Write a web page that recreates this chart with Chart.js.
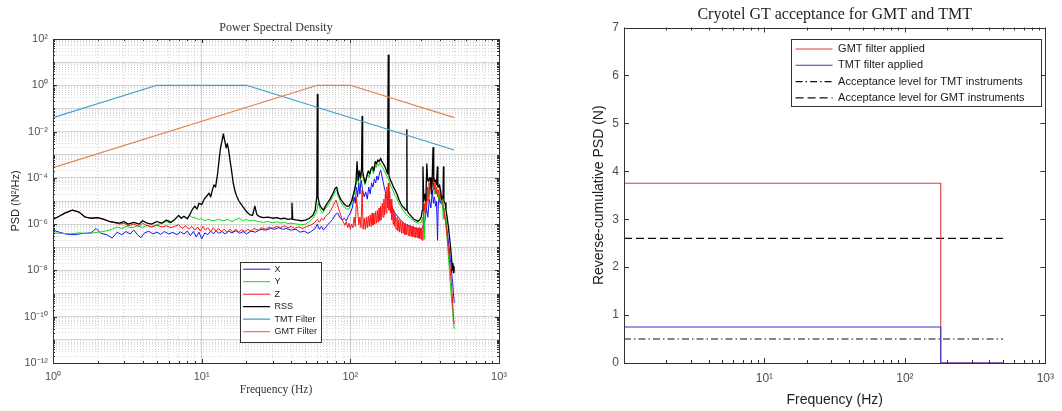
<!DOCTYPE html>
<html><head><meta charset="utf-8">
<script src="https://cdn.jsdelivr.net/npm/chart.js@4.4.0/dist/chart.umd.min.js"></script>
<style>
html,body{margin:0;padding:0;background:#fff;width:1062px;height:411px;overflow:hidden}
canvas{position:absolute;top:0}
#c1{left:0}
#c2{left:530px}
</style></head><body>
<canvas id="c1" width="530" height="411"></canvas>
<canvas id="c2" width="532" height="411"></canvas>
<script>
// ---------- Left panel data: [frequency Hz, PSD N^2/Hz] ----------
const psdX = [[1,5.5e-7],[1.1,4.5e-7],[1.25,3.6e-7],[1.4,3.5e-7],[1.6,4.0e-7],[1.8,4.2e-7],[1.95,6.5e-7],[2.1,4.0e-7],[2.3,3.5e-7],[2.5,2.5e-7],[2.7,4.5e-7],[2.9,3.5e-7],[3.1,4.8e-7],[3.3,3.8e-7],[3.5,5.5e-7],[3.7,3.5e-7],[3.9,2.6e-7],[4.1,4.0e-7],[4.4,5.0e-7],[4.7,3.8e-7],[5,4.5e-7],[5.3,3.6e-7],[5.6,4.8e-7],[6,3.8e-7],[6.4,4.4e-7],[6.8,3.5e-7],[7.2,4.6e-7],[7.6,3.7e-7],[8,5.0e-7],[8.4,3.2e-7],[8.8,4.8e-7],[9.2,2.8e-7],[9.6,4.5e-7],[10,2.3e-7],[10.5,4.2e-7],[11,3.5e-7],[11.5,5.0e-7],[12,3.8e-7],[12.5,5.2e-7],[13,4.0e-7],[13.7,4.8e-7],[14.4,3.8e-7],[15.2,5.0e-7],[16,4.2e-7],[17,5.2e-7],[18,4.0e-7],[19,4.8e-7],[20,3.8e-7],[21.5,5.0e-7],[23,4.5e-7],[25,6.0e-7],[27,5.5e-7],[29,6.5e-7],[31,6.0e-7],[33,7.0e-7],[35,6.0e-7],[37,6.5e-7],[40,5.5e-7],[43,6.0e-7],[46,4.5e-7],[49,5.0e-7],[52,4.0e-7],[55,5.0e-7],[58,6.5e-7],[60,1.0e-6],[62,6.0e-7],[64,8.0e-7],[66,5.5e-7],[68,7.0e-7],[70,9.0e-7],[73,1.2e-6],[76,1.6e-6],[79,2.5e-6],[82,3.0e-6],[85,2.0e-6],[88,1.5e-6],[91,1.8e-6],[94,1.4e-6],[97,2.2e-6],[100,3.0e-6],[103,5e-6],[106,1.5e-5],[108,8e-6],[110,4e-5],[112,1.5e-5],[114,6e-5],[116,2e-5],[118,8e-5],[121,3e-5],[124,1.5e-5],[127,2.5e-5],[130,1.2e-5],[133,4e-5],[136,2e-5],[139,6e-5],[142,4e-5],[145,9e-5],[148,6e-5],[151,1.2e-4],[154,8e-5],[157,1.6e-4],[160,2.2e-4],[163,1.2e-4],[166,7e-5],[169,4e-5],[172,2.5e-5],[175,1.5e-5],[178,1.2e-5],[181,8e-6],[185,1e-5],[190,6e-6],[195,4e-6],[200,3e-6],[210,2e-6],[220,1.4e-6],[230,1.1e-6],[240,9e-7],[250,8e-7],[265,7e-7],[280,6e-7],[300,6e-7],[315,1e-6],[325,5e-6],[332,2e-6],[340,1.2e-5],[348,5e-6],[356,3e-5],[362,8e-6],[368,1.5e-5],[374,6e-6],[380,1e-5],[386,2e-7],[390,6e-6],[396,1.5e-5],[402,8e-6],[410,1.2e-5],[418,5e-6],[426,4e-6],[434,2e-6],[442,1e-6],[450,4e-7],[458,1.5e-7],[466,5e-8],[474,2e-8],[482,6e-9],[488,3e-9],[494,1e-9],[500,4e-10]];

const psdY = [[1,4.2e-7],[1.15,4.0e-7],[1.3,3.8e-7],[1.5,4.2e-7],[1.7,3.9e-7],[1.9,4.3e-7],[2.1,4.6e-7],[2.3,5.2e-7],[2.5,6.0e-7],[2.7,7.5e-7],[2.9,6.5e-7],[3.1,8.0e-7],[3.4,7.0e-7],[3.7,8.5e-7],[4,7.2e-7],[4.3,9.0e-7],[4.6,7.8e-7],[5,9.5e-7],[5.4,1.1e-6],[5.8,1.3e-6],[6.2,1.1e-6],[6.6,1.6e-6],[7,2.3e-6],[7.3,1.8e-6],[7.6,2.2e-6],[8,1.7e-6],[8.3,2.4e-6],[8.6,2.0e-6],[9,1.9e-6],[9.5,1.6e-6],[10,1.7e-6],[10.5,1.4e-6],[11,1.6e-6],[12,1.4e-6],[13,1.6e-6],[14,1.4e-6],[15,1.6e-6],[16,1.3e-6],[17,1.6e-6],[18,1.8e-6],[19,1.4e-6],[20,1.6e-6],[21,1.4e-6],[22,1.5e-6],[24,1.3e-6],[26,1.2e-6],[28,1.3e-6],[30,1.15e-6],[32,1.25e-6],[34,1.1e-6],[36,1.2e-6],[38,1.05e-6],[40,1.1e-6],[44,1.0e-6],[47,9.5e-7],[50,1.0e-6],[53,1.3e-6],[56,1.8e-6],[59,3.2e-6],[61,8e-6],[63,4e-6],[65,3e-6],[67,4e-6],[70,6e-6],[73,9e-6],[76,1.5e-5],[79,2.5e-5],[81,3e-5],[83,1.5e-5],[86,9e-6],[90,6e-6],[94,4.5e-6],[98,4.5e-6],[102,8e-6],[106,2e-5],[109,5e-5],[111,1.2e-4],[113,6e-5],[115,1.5e-4],[117,8e-5],[119,1.8e-4],[122,1e-4],[125,5e-5],[128,9e-5],[131,1.5e-4],[134,1e-4],[137,2e-4],[140,2.4e-4],[143,1.5e-4],[146,3.5e-4],[149,2.8e-4],[152,4e-4],[155,3.2e-4],[158,4.5e-4],[161,3.5e-4],[164,3e-4],[168,2.2e-4],[172,1.6e-4],[176,1.2e-4],[180,9e-5],[184,6e-5],[188,4e-5],[193,3e-5],[198,2e-5],[204,1.4e-5],[210,9e-6],[218,6e-6],[226,4e-6],[234,3e-6],[244,2.2e-6],[254,1.8e-6],[265,1.4e-6],[276,1.2e-6],[288,1.1e-6],[300,1.2e-6],[308,2e-6],[314,2.2e-7],[320,1.5e-5],[326,6e-6],[332,4e-5],[338,1.5e-5],[344,8e-5],[350,3e-5],[356,1.2e-4],[362,4e-5],[368,2e-5],[374,5e-5],[380,2e-5],[386,3e-5],[392,1.2e-5],[398,4e-5],[404,1.5e-5],[410,8e-6],[416,1.2e-5],[422,1.6e-6],[428,5e-6],[434,2e-6],[440,8e-7],[446,3e-7],[452,1e-7],[458,3e-8],[464,1e-8],[470,3e-9],[476,1e-9],[482,4e-10],[488,1.5e-10],[494,6e-11],[500,3e-11]];

const psdZ = [[1,1.6e-6],[1.1,2.2e-6],[1.2,3.0e-6],[1.35,4.0e-6],[1.5,3.3e-6],[1.65,2.0e-6],[1.8,1.8e-6],[2,1.9e-6],[2.2,1.6e-6],[2.4,1.3e-6],[2.6,1.15e-6],[2.8,1.0e-6],[3,1.1e-6],[3.2,8.5e-7],[3.5,1.0e-6],[3.8,8e-7],[4,1.1e-6],[4.3,8.5e-7],[4.6,7.5e-7],[5,9e-7],[5.4,7.5e-7],[5.8,8.5e-7],[6.2,7e-7],[6.6,8e-7],[7,9.5e-7],[7.4,6.5e-7],[7.8,8.5e-7],[8.2,6e-7],[8.6,8e-7],[9,5.5e-7],[9.4,7.5e-7],[9.8,5e-7],[10.2,8e-7],[10.6,5.5e-7],[11,7e-7],[11.5,4.8e-7],[12,7e-7],[12.5,5e-7],[13,6.5e-7],[13.6,4.8e-7],[14.2,6e-7],[14.8,4.5e-7],[15.5,6e-7],[16.2,4.6e-7],[17,6e-7],[17.8,4.5e-7],[18.6,5.8e-7],[19.5,4.8e-7],[20.5,6e-7],[21.5,5e-7],[22.5,6.5e-7],[24,5.5e-7],[25.5,7e-7],[27,6e-7],[28.5,7.5e-7],[30,6.5e-7],[32,8e-7],[34,7e-7],[36,8.5e-7],[38,7e-7],[40,8e-7],[42,6.5e-7],[45,7.5e-7],[48,6.5e-7],[51,8e-7],[54,9e-7],[57,1.1e-6],[60,1.6e-6],[62,1.2e-6],[64,1.8e-6],[66,1.5e-6],[68,2.2e-6],[70,2.5e-6],[72,3e-6],[74,4e-6],[76,5.5e-6],[78,8e-6],[80,1.1e-5],[82,7e-6],[84,4e-6],[86,2.5e-6],[88,1.6e-6],[90,1.2e-6],[92,9e-7],[94,1.3e-6],[96,7e-7],[98,1.1e-6],[100,6e-7],[102,1.0e-6],[104,7e-7],[106,2e-6],[108,8e-7],[110,1.5e-5],[112,4e-6],[114,9e-7],[116,2e-6],[118,7e-7],[120,3e-5],[122,6e-7],[124,1.8e-6],[126,6e-7],[128,2e-6],[130,7e-7],[132,2.2e-6],[134,8e-7],[136,2.5e-6],[138,8e-7],[140,3e-6],[142,9e-7],[144,3e-6],[146,1e-6],[148,3.5e-6],[150,1.1e-6],[152,4e-6],[154,1.2e-6],[156,5e-6],[158,1.4e-6],[160,6e-6],[162,1.6e-6],[164,8e-6],[166,2e-6],[168,1.2e-5],[170,2.5e-6],[172,2e-5],[174,3e-6],[176,4e-5],[178,5e-6],[180,6e-5],[182,4e-6],[184,2.5e-5],[186,3e-6],[188,1.2e-5],[190,1.5e-6],[192,6e-6],[194,1e-6],[196,4e-6],[198,8e-7],[200,3e-6],[203,6e-7],[206,2e-6],[209,5e-7],[212,1.6e-6],[215,4.5e-7],[218,1.4e-6],[221,4e-7],[224,1.2e-6],[227,4e-7],[230,1.1e-6],[233,3.5e-7],[236,1e-6],[239,3.5e-7],[242,1e-6],[245,3.2e-7],[248,9e-7],[251,3e-7],[254,9e-7],[257,3e-7],[260,8e-7],[263,2.8e-7],[266,8e-7],[269,2.8e-7],[272,7.5e-7],[275,2.6e-7],[278,7e-7],[281,2.6e-7],[284,7e-7],[287,2.5e-7],[290,7e-7],[293,2.4e-7],[296,6.5e-7],[299,2.2e-7],[302,6e-7],[305,2e-7],[308,5e-7],[310,2e-6],[314,8e-6],[318,3e-6],[322,1.5e-5],[326,5e-6],[330,4e-5],[334,1e-5],[338,6e-5],[342,2e-5],[346,8e-5],[350,3e-5],[355,6e-5],[360,1e-4],[365,3e-5],[370,6e-5],[375,2e-5],[380,4e-5],[386,1.5e-5],[392,3e-5],[398,1.2e-5],[404,2e-5],[410,8e-6],[418,1e-5],[426,4e-6],[432,2e-6],[440,9e-7],[448,3e-7],[456,1e-7],[464,3e-8],[472,8e-9],[480,2e-9],[488,4e-10],[494,1e-10],[500,5e-11]];

const psdRSS = [[1,1.6e-6],[1.1,2.2e-6],[1.2,3.0e-6],[1.35,4.0e-6],[1.5,3.3e-6],[1.65,2.0e-6],[1.8,1.8e-6],[2,1.9e-6],[2.2,1.6e-6],[2.4,1.3e-6],[2.6,1.2e-6],[2.8,1.1e-6],[3,1.3e-6],[3.2,1.0e-6],[3.5,1.2e-6],[3.8,1.0e-6],[4,1.4e-6],[4.3,1.1e-6],[4.6,1.0e-6],[5,1.3e-6],[5.4,1.1e-6],[5.8,1.5e-6],[6.2,1.2e-6],[6.6,1.6e-6],[7,2.4e-6],[7.3,1.8e-6],[7.6,2.2e-6],[8,1.7e-6],[8.3,2.5e-6],[8.6,4.0e-6],[9,6e-6],[9.3,4.5e-6],[9.6,8e-6],[10,7e-6],[10.4,1.2e-5],[10.8,1.6e-5],[11.2,2.2e-5],[11.5,1.5e-5],[11.8,3e-5],[12.1,5e-5],[12.4,4e-5],[12.8,1.5e-4],[13.1,6e-4],[13.4,2e-3],[13.7,4e-3],[14,8e-3],[14.3,4e-3],[14.6,2e-3],[14.9,3e-3],[15.2,1.5e-3],[15.5,6e-4],[15.9,2e-4],[16.3,6e-5],[16.8,2.5e-5],[17.3,1.5e-5],[17.8,1.0e-5],[18.5,7e-6],[19.2,5e-6],[20,3.5e-6],[21,2.6e-6],[22,2.4e-6],[22.8,6e-6],[23.5,2.6e-6],[24.5,2.1e-6],[26,1.9e-6],[28,2.0e-6],[30,1.8e-6],[32,1.9e-6],[34,1.7e-6],[36,1.8e-6],[38,1.6e-6],[40,1.7e-6],[40.5,8e-6],[41,1.6e-6],[44,1.5e-6],[47,1.4e-6],[50,1.5e-6],[53,1.8e-6],[56,2.4e-6],[58,4e-6],[59.5,1.5e-5],[60,0.4],[60.6,1.5e-5],[62,7e-6],[64,5e-6],[66,4e-6],[68,6e-6],[70,8e-6],[73,1.2e-5],[76,2e-5],[79,3.5e-5],[81,4e-5],[83,2e-5],[86,1.2e-5],[90,8e-6],[94,6e-6],[98,6e-6],[102,1e-5],[106,2.5e-5],[109,6e-5],[111,5e-4],[113,8e-5],[115,2e-4],[117,1e-4],[119,2.5e-4],[120,0.045],[121,2e-4],[123,1.1e-4],[126,6e-5],[129,1.2e-4],[132,2e-4],[135,1.5e-4],[138,2.5e-4],[141,3e-4],[144,2e-4],[147,5e-4],[150,4e-4],[153,6e-4],[156,5e-4],[160,7e-4],[163,5e-4],[167,4e-4],[171,3e-4],[175,2e-4],[178,1.5e-4],[180,20],[182,1.2e-4],[186,8e-5],[190,6e-5],[195,4e-5],[200,3e-5],[206,2e-5],[212,1.2e-5],[218,8e-6],[224,6e-6],[230,5e-6],[236,4e-6],[239,4e-6],[240,0.012],[241,4e-6],[246,3e-6],[252,2.5e-6],[260,2e-6],[268,1.6e-6],[276,1.5e-6],[284,1.3e-6],[292,1.5e-6],[300,2e-6],[305,4e-6],[308,3e-4],[312,1e-5],[318,2e-5],[322,1e-5],[327,4e-4],[331,8e-5],[336,7e-5],[340,1e-4],[344,1e-4],[348,6e-5],[352,2e-5],[356,1.5e-4],[360,2e-3],[364,1e-4],[368,7e-5],[374,8e-5],[380,5e-5],[385,3e-4],[388,4e-5],[392,4e-5],[398,5e-5],[404,3e-5],[412,1.2e-5],[420,1.5e-5],[423,3e-4],[426,1e-5],[434,8e-6],[440,4e-6],[448,2e-6],[456,8e-7],[464,3e-7],[472,1e-7],[480,3e-8],[486,1e-8],[490,2e-8],[494,8e-9],[498,1.5e-8],[500,1e-8]];

const tmtFilter = [[1,0.04],[5,1],[20,1],[500,0.0016]];
const gmtFilter = [[1,2.78e-4],[60,1],[100,1],[500,0.04]];

const psdLabels = ['X','Y','Z','RSS','TMT Filter','GMT Filter'];
const psdXTickVals = [1,2,3,4,5,6,7,8,9,10,20,30,40,50,60,70,80,90,100,200,300,400,500,600,700,800,900,1000];
const psdXLabelExps = [0,1,2,3];
const psdYLabelExps = [-12,-10,-8,-6,-4,-2,0,2];

// ---------- Right panel data: [frequency Hz, reverse-cumulative PSD N] ----------
const gmtApplied = [[1,3.75],[180,3.75],[180,0],[500,0]];
const tmtApplied = [[1,0.75],[180,0.75],[180,0],[500,0]];
const tmtAcceptance = [[1,0.5],[500,0.5]];
const gmtAcceptance = [[1,2.6],[500,2.6]];
const accLabels = ['GMT filter applied','TMT filter applied','Acceptance level for TMT instruments','Acceptance level for GMT instruments'];
const accXTickVals = [1,2,3,4,5,6,7,8,9,10,20,30,40,50,60,70,80,90,100,200,300,400,500,600,700,800,900,1000];
const accXLabelExps = [1,2,3];
const accYTicks = [0,1,2,3,4,5,6,7];

// ---------- helpers ----------
const SUP = {'0':'\u2070','1':'\u00B9','2':'\u00B2','3':'\u00B3','4':'\u2074','5':'\u2075','6':'\u2076','7':'\u2077','8':'\u2078','9':'\u2079','-':'\u207B'};
const pow10Label = e => '10' + String(e).split('').map(c => SUP[c]).join('');
const isPow = v => Math.abs(Math.log10(v) - Math.round(Math.log10(v))) < 1e-9;
const expOf = v => Math.round(Math.log10(v));
const pts = arr => arr.map(p => ({x: p[0], y: p[1]}));

const psdYTickVals = [];
for (let e = -12; e <= 2; e++) {
  for (let m = 1; m <= 9; m++) {
    if (e === 2 && m > 1) break;
    psdYTickVals.push(Number((m * Math.pow(10, e)).toPrecision(6)));
  }
}

const SANS = '"Liberation Sans", Arial, Helvetica, sans-serif';
const SERIF = '"Liberation Serif", "Times New Roman", serif';
Chart.defaults.font.family = SANS;

function lineLegendLabels(chart) {
  const items = Chart.defaults.plugins.legend.labels.generateLabels(chart);
  items.forEach(it => {
    const ds = chart.data.datasets[it.datasetIndex];
    it.lineDash = ds.borderDash || [];
    it.strokeStyle = ds.borderColor;
    it.fillStyle = ds.borderColor;
    it.lineWidth = ds.borderWidth;
    it.pointStyle = 'line';
  });
  return items;
}

function decorPlugin(cfg) {
  return {
    id: 'decor',
    beforeLayout(chart) {
      const lg = chart.legend;
      if (lg) lg._layers = () => [{z: 1, draw: (ca) => lg.draw(ca)}];
    },
    afterLayout(chart) {
      const lg = chart.legend;
      if (!lg) return;
      lg.left = cfg.legendPos.x; lg.top = cfg.legendPos.y;
      lg.right = lg.left + lg.width; lg.bottom = lg.top + lg.height;
    },
    afterDatasetsDraw(chart) {
      const {ctx, chartArea: a, scales} = chart;
      ctx.save();
      ctx.strokeStyle = cfg.axisColor; ctx.lineWidth = 1; ctx.setLineDash([]);
      ctx.beginPath();
      scales.x.ticks.forEach(t => {
        const px = Math.round(scales.x.getPixelForValue(t.value)) + 0.5;
        const len = cfg.xMajor(t.value) ? cfg.major : cfg.minor;
        ctx.moveTo(px, a.bottom); ctx.lineTo(px, a.bottom - len);
        ctx.moveTo(px, a.top); ctx.lineTo(px, a.top + len);
      });
      scales.y.ticks.forEach(t => {
        const py = Math.round(scales.y.getPixelForValue(t.value)) + 0.5;
        const len = cfg.yMajor(t.value) ? cfg.major : cfg.minor;
        ctx.moveTo(a.left, py); ctx.lineTo(a.left + len, py);
        ctx.moveTo(a.right, py); ctx.lineTo(a.right - len, py);
      });
      ctx.stroke();
      const L = Math.round(a.left) + 0.5, T = Math.round(a.top) + 0.5;
      ctx.strokeRect(L, T, Math.round(a.right) - Math.round(a.left), Math.round(a.bottom) - Math.round(a.top));
      const b = cfg.legendBox;
      ctx.fillStyle = '#fff';
      ctx.fillRect(b.x, b.y, b.w, b.h);
      ctx.strokeStyle = cfg.legendBorder;
      ctx.strokeRect(b.x + 0.5, b.y + 0.5, b.w, b.h);
      ctx.restore();
    }
  };
}

// ---------- Left chart ----------
const psdColors = ['#1414f0', '#14d814', '#ff1414', '#000000', '#3f9fce', '#e0844f'];
const psdWidths = [1, 1, 1, 1.3, 1.2, 1.2];
const psdSeries = [psdX, psdY, psdZ, psdRSS, tmtFilter, gmtFilter];

new Chart(document.getElementById('c1'), {
  type: 'line',
  data: {
    datasets: psdSeries.map((s, i) => ({
      label: psdLabels[i],
      data: pts(s),
      borderColor: psdColors[i],
      backgroundColor: psdColors[i],
      borderWidth: psdWidths[i],
      pointRadius: 0,
      tension: 0,
      borderJoinStyle: 'round',
      fill: false,
      order: psdSeries.length - i
    }))
  },
  options: {
    responsive: false, animation: false, devicePixelRatio: 1,
    layout: {padding: {left: 0, right: 31, top: 0, bottom: 0}},
    plugins: {
      title: {display: true, fullSize: false, text: 'Power Spectral Density', color: '#333',
        font: {family: SERIF, size: 12, weight: 'normal'}, padding: {top: 20.8, bottom: 3.8}},
      legend: {
        display: true, position: 'chartArea', align: 'start',
        labels: {usePointStyle: true, pointStyle: 'line', pointStyleWidth: 27, boxHeight: 9,
          padding: 3.5, color: '#1a1a1a', font: {family: SANS, size: 9},
          generateLabels: lineLegendLabels,
          sort: (a, b) => a.datasetIndex - b.datasetIndex}
      },
      tooltip: {enabled: false}
    },
    scales: {
      x: {
        type: 'logarithmic', min: 1, max: 1000,
        afterBuildTicks: s => { s.ticks = psdXTickVals.map(v => ({value: v})); },
        afterFit: s => { s.height = 48; },
        grid: {drawTicks: false,
          color: c => (c.tick && isPow(c.tick.value)) ? 'rgba(0,0,0,0.17)' : 'rgba(0,0,0,0.15)'},
        border: {display: false, dash: c => (c.tick && !isPow(c.tick.value)) ? [1, 2] : []},
        ticks: {autoSkip: false, maxRotation: 0, padding: 7, color: '#505050', font: {size: 11},
          callback: v => (isPow(v) && psdXLabelExps.includes(expOf(v))) ? pow10Label(expOf(v)) : ''},
        title: {display: true, text: 'Frequency (Hz)', color: '#333',
          font: {family: SERIF, size: 11.5}, padding: {top: 0, bottom: 14}}
      },
      y: {
        type: 'logarithmic', min: 1e-12, max: 100,
        afterBuildTicks: s => { s.ticks = psdYTickVals.map(v => ({value: v})); },
        afterFit: s => { s.width = 53; },
        grid: {drawTicks: false,
          color: c => (c.tick && isPow(c.tick.value)) ? 'rgba(0,0,0,0.17)' : 'rgba(0,0,0,0.15)'},
        border: {display: false, dash: c => (c.tick && !isPow(c.tick.value)) ? [1, 2] : []},
        ticks: {autoSkip: false, padding: 5, color: '#505050', font: {size: 11},
          callback: v => (isPow(v) && psdYLabelExps.includes(expOf(v))) ? pow10Label(expOf(v)) : ''},
        title: {display: true, text: 'PSD (N\u00B2/Hz)', color: '#222',
          font: {family: SANS, size: 11}, padding: {top: 9.6, bottom: 0}}
      }
    }
  },
  plugins: [decorPlugin({
    legendPos: {x: 239.6, y: 261.2},
    legendBox: {x: 240, y: 262, w: 81, h: 80},
    legendBorder: '#333',
    axisColor: '#333', major: 4, minor: 2,
    xMajor: v => isPow(v),
    yMajor: v => isPow(v) && psdYLabelExps.includes(expOf(v))
  })]
});

// ---------- Right chart ----------
const accSeries = [gmtApplied, tmtApplied, tmtAcceptance, gmtAcceptance];
const accColors = ['#e23a3a', '#3434c8', '#111111', '#111111'];
const accDash = [[], [], [7, 3, 1.5, 3], [8, 4]];
const accOrder = [2, 1, 3, 4];

new Chart(document.getElementById('c2'), {
  type: 'line',
  data: {
    datasets: accSeries.map((s, i) => ({
      label: accLabels[i],
      data: pts(s),
      borderColor: accColors[i],
      backgroundColor: accColors[i],
      borderWidth: 1.1,
      borderDash: accDash[i],
      pointRadius: 0,
      tension: 0,
      fill: false,
      order: accOrder[i]
    }))
  },
  options: {
    responsive: false, animation: false, devicePixelRatio: 1,
    layout: {padding: {left: 0, right: 12, top: 0, bottom: 0}},
    plugins: {
      title: {display: true, fullSize: false, text: 'Cryotel GT acceptance for GMT and TMT', color: '#222',
        font: {family: SERIF, size: 16, weight: 'normal'}, padding: {top: 4.7, bottom: 3.6}},
      legend: {
        display: true, position: 'chartArea', align: 'start',
        labels: {usePointStyle: true, pointStyle: 'line', pointStyleWidth: 37, boxHeight: 11,
          padding: 5.3, color: '#1a1a1a', font: {family: SANS, size: 11},
          generateLabels: lineLegendLabels,
          sort: (a, b) => a.datasetIndex - b.datasetIndex}
      },
      tooltip: {enabled: false}
    },
    scales: {
      x: {
        type: 'logarithmic', min: 1, max: 1000,
        afterBuildTicks: s => { s.ticks = accXTickVals.map(v => ({value: v})); },
        afterFit: s => { s.height = 48; },
        grid: {display: false, drawTicks: false},
        border: {display: false},
        ticks: {autoSkip: false, maxRotation: 0, padding: 8, color: '#4d4d4d', font: {size: 12},
          callback: v => (isPow(v) && accXLabelExps.includes(expOf(v))) ? pow10Label(expOf(v)) : ''},
        title: {display: true, text: 'Frequency (Hz)', color: '#222',
          font: {family: SANS, size: 14}, padding: {top: 0, bottom: 2.6}}
      },
      y: {
        type: 'linear', min: 0, max: 7,
        afterBuildTicks: s => { s.ticks = accYTicks.map(v => ({value: v})); },
        afterFit: s => { s.width = 94; },
        grid: {display: false, drawTicks: false},
        border: {display: false},
        ticks: {autoSkip: false, padding: 5, color: '#4d4d4d', font: {size: 12}},
        title: {display: true, text: 'Reverse-cumulative PSD (N)', color: '#222',
          font: {family: SANS, size: 14}, padding: {top: 61, bottom: 0}}
      }
    }
  },
  plugins: [decorPlugin({
    legendPos: {x: 260.3, y: 38.2},
    legendBox: {x: 261, y: 39, w: 250, h: 67},
    legendBorder: '#333',
    axisColor: '#333', major: 5, minor: 3,
    xMajor: v => isPow(v),
    yMajor: v => true
  })]
});
</script>
</body></html>
